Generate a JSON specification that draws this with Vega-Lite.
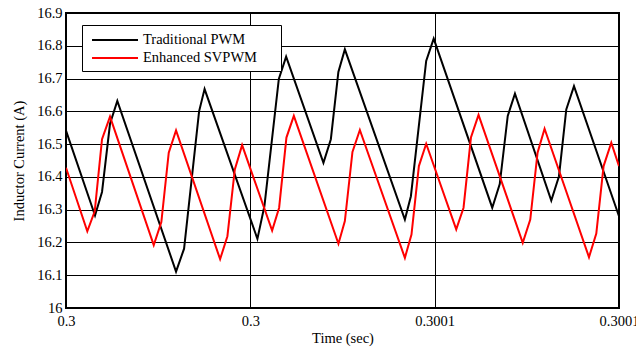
{
  "$schema": "https://vega.github.io/schema/vega-lite/v6.json",
  "width": 553,
  "height": 295,
  "autosize": {"type": "none"},
  "padding": {"left": 66, "top": 13, "right": 17, "bottom": 40},
  "background": "white",
  "config": {
    "font": "Liberation Serif",
    "view": {"stroke": "black", "strokeWidth": 2},
    "axis": {
      "labelFont": "Liberation Serif",
      "titleFont": "Liberation Serif",
      "labelFontSize": 14.5,
      "titleFontSize": 14.5,
      "titleFontWeight": "normal",
      "labelColor": "black",
      "titleColor": "black",
      "grid": true,
      "gridColor": "black",
      "gridOpacity": 1,
      "gridWidth": 1,
      "domain": false,
      "ticks": false
    },
    "legend": {
      "labelFont": "Liberation Serif",
      "labelFontSize": 14.5,
      "labelColor": "black"
    }
  },
  "data": {
    "values": [
      {"t": 0.29998000, "i": 16.541, "s": "Traditional PWM"},
      {"t": 0.29998787, "i": 16.282, "s": "Traditional PWM"},
      {"t": 0.29998977, "i": 16.354, "s": "Traditional PWM"},
      {"t": 0.29999194, "i": 16.562, "s": "Traditional PWM"},
      {"t": 0.29999392, "i": 16.632, "s": "Traditional PWM"},
      {"t": 0.30000985, "i": 16.111, "s": "Traditional PWM"},
      {"t": 0.30001203, "i": 16.181, "s": "Traditional PWM"},
      {"t": 0.30001610, "i": 16.600, "s": "Traditional PWM"},
      {"t": 0.30001759, "i": 16.668, "s": "Traditional PWM"},
      {"t": 0.30003192, "i": 16.211, "s": "Traditional PWM"},
      {"t": 0.30003382, "i": 16.311, "s": "Traditional PWM"},
      {"t": 0.30003773, "i": 16.699, "s": "Traditional PWM"},
      {"t": 0.30003971, "i": 16.767, "s": "Traditional PWM"},
      {"t": 0.30004983, "i": 16.443, "s": "Traditional PWM"},
      {"t": 0.30005184, "i": 16.515, "s": "Traditional PWM"},
      {"t": 0.30005388, "i": 16.720, "s": "Traditional PWM"},
      {"t": 0.30005564, "i": 16.789, "s": "Traditional PWM"},
      {"t": 0.30007192, "i": 16.270, "s": "Traditional PWM"},
      {"t": 0.30007355, "i": 16.341, "s": "Traditional PWM"},
      {"t": 0.30007770, "i": 16.754, "s": "Traditional PWM"},
      {"t": 0.30007974, "i": 16.822, "s": "Traditional PWM"},
      {"t": 0.30009562, "i": 16.306, "s": "Traditional PWM"},
      {"t": 0.30009765, "i": 16.378, "s": "Traditional PWM"},
      {"t": 0.30009982, "i": 16.586, "s": "Traditional PWM"},
      {"t": 0.30010178, "i": 16.654, "s": "Traditional PWM"},
      {"t": 0.30011163, "i": 16.328, "s": "Traditional PWM"},
      {"t": 0.30011372, "i": 16.402, "s": "Traditional PWM"},
      {"t": 0.30011570, "i": 16.606, "s": "Traditional PWM"},
      {"t": 0.30011779, "i": 16.677, "s": "Traditional PWM"},
      {"t": 0.30013000, "i": 16.280, "s": "Traditional PWM"},
      {"t": 0.29998000, "i": 16.428, "s": "Enhanced SVPWM"},
      {"t": 0.29998578, "i": 16.234, "s": "Enhanced SVPWM"},
      {"t": 0.29998779, "i": 16.295, "s": "Enhanced SVPWM"},
      {"t": 0.29998977, "i": 16.515, "s": "Enhanced SVPWM"},
      {"t": 0.29999194, "i": 16.584, "s": "Enhanced SVPWM"},
      {"t": 0.30000380, "i": 16.192, "s": "Enhanced SVPWM"},
      {"t": 0.30000586, "i": 16.262, "s": "Enhanced SVPWM"},
      {"t": 0.30000787, "i": 16.474, "s": "Enhanced SVPWM"},
      {"t": 0.30000985, "i": 16.542, "s": "Enhanced SVPWM"},
      {"t": 0.30002180, "i": 16.149, "s": "Enhanced SVPWM"},
      {"t": 0.30002378, "i": 16.219, "s": "Enhanced SVPWM"},
      {"t": 0.30002579, "i": 16.423, "s": "Enhanced SVPWM"},
      {"t": 0.30002777, "i": 16.497, "s": "Enhanced SVPWM"},
      {"t": 0.30003591, "i": 16.236, "s": "Enhanced SVPWM"},
      {"t": 0.30003781, "i": 16.306, "s": "Enhanced SVPWM"},
      {"t": 0.30003979, "i": 16.520, "s": "Enhanced SVPWM"},
      {"t": 0.30004180, "i": 16.586, "s": "Enhanced SVPWM"},
      {"t": 0.30005390, "i": 16.196, "s": "Enhanced SVPWM"},
      {"t": 0.30005564, "i": 16.265, "s": "Enhanced SVPWM"},
      {"t": 0.30005770, "i": 16.476, "s": "Enhanced SVPWM"},
      {"t": 0.30005971, "i": 16.543, "s": "Enhanced SVPWM"},
      {"t": 0.30007192, "i": 16.153, "s": "Enhanced SVPWM"},
      {"t": 0.30007371, "i": 16.224, "s": "Enhanced SVPWM"},
      {"t": 0.30007572, "i": 16.433, "s": "Enhanced SVPWM"},
      {"t": 0.30007770, "i": 16.501, "s": "Enhanced SVPWM"},
      {"t": 0.30008585, "i": 16.240, "s": "Enhanced SVPWM"},
      {"t": 0.30008783, "i": 16.306, "s": "Enhanced SVPWM"},
      {"t": 0.30008984, "i": 16.520, "s": "Enhanced SVPWM"},
      {"t": 0.30009190, "i": 16.589, "s": "Enhanced SVPWM"},
      {"t": 0.30010389, "i": 16.199, "s": "Enhanced SVPWM"},
      {"t": 0.30010593, "i": 16.270, "s": "Enhanced SVPWM"},
      {"t": 0.30010791, "i": 16.474, "s": "Enhanced SVPWM"},
      {"t": 0.30010981, "i": 16.547, "s": "Enhanced SVPWM"},
      {"t": 0.30012186, "i": 16.155, "s": "Enhanced SVPWM"},
      {"t": 0.30012384, "i": 16.227, "s": "Enhanced SVPWM"},
      {"t": 0.30012582, "i": 16.433, "s": "Enhanced SVPWM"},
      {"t": 0.30012791, "i": 16.504, "s": "Enhanced SVPWM"},
      {"t": 0.30013000, "i": 16.433, "s": "Enhanced SVPWM"}
    ]
  },
  "mark": {"type": "line", "strokeWidth": 2, "clip": true},
  "encoding": {
    "x": {
      "field": "t",
      "type": "quantitative",
      "scale": {"domain": [0.29998, 0.30013], "nice": false, "zero": false},
      "axis": {
        "title": "Time (sec)",
        "values": [0.29998, 0.30003, 0.30008, 0.30013],
        "format": ".4~f",
        "labelPadding": 6,
        "titlePadding": 4,
        "labelFlush": false
      }
    },
    "y": {
      "field": "i",
      "type": "quantitative",
      "scale": {"domain": [16, 16.9], "nice": false, "zero": false},
      "axis": {
        "title": "Inductor Current (A)",
        "values": [16, 16.1, 16.2, 16.3, 16.4, 16.5, 16.6, 16.7, 16.8, 16.9],
        "format": ".1~f",
        "labelPadding": 4,
        "titlePadding": 10
      }
    },
    "color": {
      "field": "s",
      "type": "nominal",
      "sort": ["Traditional PWM", "Enhanced SVPWM"],
      "scale": {"domain": ["Traditional PWM", "Enhanced SVPWM"], "range": ["#000000", "#ff0000"]},
      "legend": {
        "title": null,
        "orient": "none",
        "legendX": 16,
        "legendY": 12,
        "fillColor": "white",
        "strokeColor": "black",
        "padding": 6,
        "rowPadding": 2,
        "symbolType": "M-0.65,0H5.35M22.6,0",
        "symbolSize": 235,
        "symbolStrokeWidth": 2,
        "labelFont": "Liberation Serif",
        "labelFontSize": 14.5,
        "labelColor": "black",
        "labelOffset": 37
      }
    },
    "order": {"field": "t", "type": "quantitative"}
  }
}
